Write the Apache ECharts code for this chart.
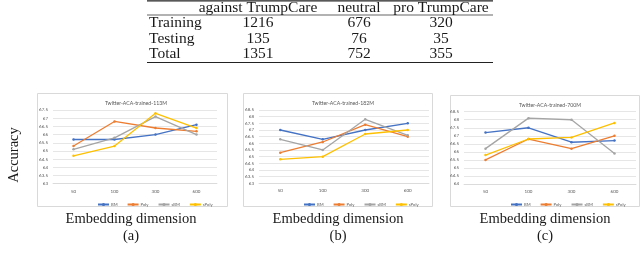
<!DOCTYPE html>
<html><head><meta charset="utf-8">
<script src="https://cdn.jsdelivr.net/npm/echarts@6/dist/echarts.min.js"></script>
<style>html,body{margin:0;padding:0;background:#fff}#c{width:640px;height:261px}</style>
</head><body><div id="c"></div>
<script>
// ---- table data ----
const tableColumns = ['against TrumpCare', 'neutral', 'pro TrumpCare'];
const tableRowNames = ['Training', 'Testing', 'Total'];
const tableAgainst = [1216, 135, 1351];
const tableNeutral = [676, 76, 752];
const tablePro = [320, 35, 355];

// ---- chart data ----
const dims = ['50', '100', '300', '600'];
const seriesNames = ['BM', 'Poly', 'sBM', 'sPoly'];
const panelTitles = ['Twitter-ACA-trained-113M', 'Twitter-ACA-trained-182M', 'Twitter-ACA-trained-700M'];
const panelLetters = ['(a)', '(b)', '(c)'];
const xAxisTitle = 'Embedding dimension';
const yAxisTitle = 'Accuracy';

const a_BM = [65.7, 65.7, 66.0, 66.6];
const a_Poly = [65.3, 66.8, 66.4, 66.2];
const a_sBM = [65.1, 65.8, 67.1, 66.0];
const a_sPoly = [64.7, 65.3, 67.3, 66.4];

const b_BM = [67.0, 66.3, 67.0, 67.5];
const b_Poly = [65.3, 66.1, 67.4, 66.5];
const b_sBM = [66.3, 65.5, 67.8, 66.6];
const b_sPoly = [64.8, 65.0, 66.7, 67.0];

const c_BM = [67.2, 67.5, 66.6, 66.7];
const c_Poly = [65.5, 66.8, 66.2, 67.0];
const c_sBM = [66.2, 68.1, 68.0, 65.9];
const c_sPoly = [65.8, 66.8, 66.9, 67.8];

const yMin = [63, 63, 64];
const yMax = [67.5, 68.5, 68.5];

// ---- styling / layout ----
const colors = ['#4472C4', '#ED7D31', '#A5A5A5', '#FFC000'];
const panelData = [[a_BM, a_Poly, a_sBM, a_sPoly], [b_BM, b_Poly, b_sBM, b_sPoly], [c_BM, c_Poly, c_sBM, c_sPoly]];
const grids = [
  {left: 53, top: 110, width: 164, height: 73.7},
  {left: 259, top: 110, width: 170, height: 73.3},
  {left: 464, top: 111.7, width: 172, height: 72.3}
];
const boxes = [
  {x: 37.5, y: 93.5, w: 190, h: 113},
  {x: 243.5, y: 93.5, w: 189, h: 113},
  {x: 450.5, y: 95.5, w: 189, h: 111}
];
const panelCenters = [131, 338, 545];
const legendLefts = [92, 298, 505];
const sans = 'Lato, "Liberation Sans", sans-serif';
const serif = '"Liberation Serif", "DejaVu Serif", serif';

const chart = echarts.init(document.getElementById('c'), null, {renderer: 'canvas'});

const option = {
  animation: false,
  color: colors,
  grid: grids.map(g => Object.assign({containLabel: false}, g)),
  title: panelTitles.map((t, i) => ({
    text: t, left: panelCenters[i], top: i === 2 ? 98 : 96, textAlign: 'center',
    textStyle: {fontFamily: sans, fontSize: 5.2, fontWeight: 'normal', color: '#595959'}
  })),
  legend: panelTitles.map((t, i) => ({
    data: seriesNames.map(n => n + '_' + i),
    formatter: name => name.split('_')[0],
    left: legendLefts[i], top: 197.5, itemWidth: 11, itemHeight: 4, itemGap: 9,
    textStyle: {fontFamily: sans, fontSize: 4.2, color: '#595959', padding: [0, 0, 0, -3]}
  })),
  xAxis: grids.map((g, i) => ({
    type: 'category', gridIndex: i, data: dims, boundaryGap: true,
    axisLine: {show: true, lineStyle: {color: '#d9d9d9', width: 0.8}},
    axisTick: {show: false},
    axisLabel: {fontFamily: sans, fontSize: 4.5, color: '#595959', margin: 5}
  })),
  yAxis: grids.map((g, i) => ({
    type: 'value', gridIndex: i, min: yMin[i], max: yMax[i], interval: 0.5,
    axisLine: {show: false}, axisTick: {show: false},
    splitLine: {lineStyle: {color: '#e0e0e0', width: 0.8}},
    axisLabel: {fontFamily: sans, fontSize: 4.5, color: '#595959', margin: 5}
  })),
  series: [],
  graphic: []
};

panelData.forEach((arrs, i) => {
  arrs.forEach((d, k) => {
    option.series.push({
      name: seriesNames[k] + '_' + i, type: 'line', xAxisIndex: i, yAxisIndex: i,
      data: d, symbol: 'circle', symbolSize: 2.5,
      lineStyle: {width: 1.3, color: colors[k]}, itemStyle: {color: colors[k]}
    });
  });
});

const G = option.graphic;
function txt(text, x, y, size, align, extra) {
  G.push(Object.assign({
    type: 'text', x: x, y: y,
    style: {text: String(text), x: 0, y: 0, fill: '#1a1a1a', font: size + 'px ' + serif,
      textAlign: align, align: align, textVerticalAlign: 'middle', verticalAlign: 'middle'}
  }, extra || {}));
}
function rule(x1, x2, y, w) {
  G.push({type: 'line', shape: {x1: x1, y1: y, x2: x2, y2: y}, style: {stroke: '#222', lineWidth: w}});
}
// table
const tLeft = 147, tRight = 493;
const colX = [258, 359, 441];
const tFont = 15.5;
rule(tLeft, tRight, 0.8, 1.2);
rule(tLeft, tRight, 15, 0.7);
rule(tLeft, tRight, 62.5, 1.2);
tableColumns.forEach((c, j) => txt(c, colX[j], 8, tFont, 'center'));
const rowY = [22.5, 38.5, 54];
const tableCols = [tableAgainst, tableNeutral, tablePro];
tableRowNames.forEach((r, i) => {
  txt(r, 149, rowY[i], tFont, 'left');
  tableCols.forEach((col, j) => txt(col[i], colX[j], rowY[i], tFont, 'center'));
});
// panel borders
boxes.forEach(b => G.push({type: 'rect', shape: {x: b.x, y: b.y, width: b.w, height: b.h},
  style: {fill: 'none', stroke: '#d9d9d9', lineWidth: 1}, z: -1}));
// big labels
panelCenters.forEach((cx, i) => {
  txt(xAxisTitle, cx, 219, 14.5, 'center');
  txt(panelLetters[i], cx, 236, 14.5, 'center');
});
txt(yAxisTitle, 14, 155, 14.5, 'center', {rotation: Math.PI / 2});

chart.setOption(option);
</script></body></html>
